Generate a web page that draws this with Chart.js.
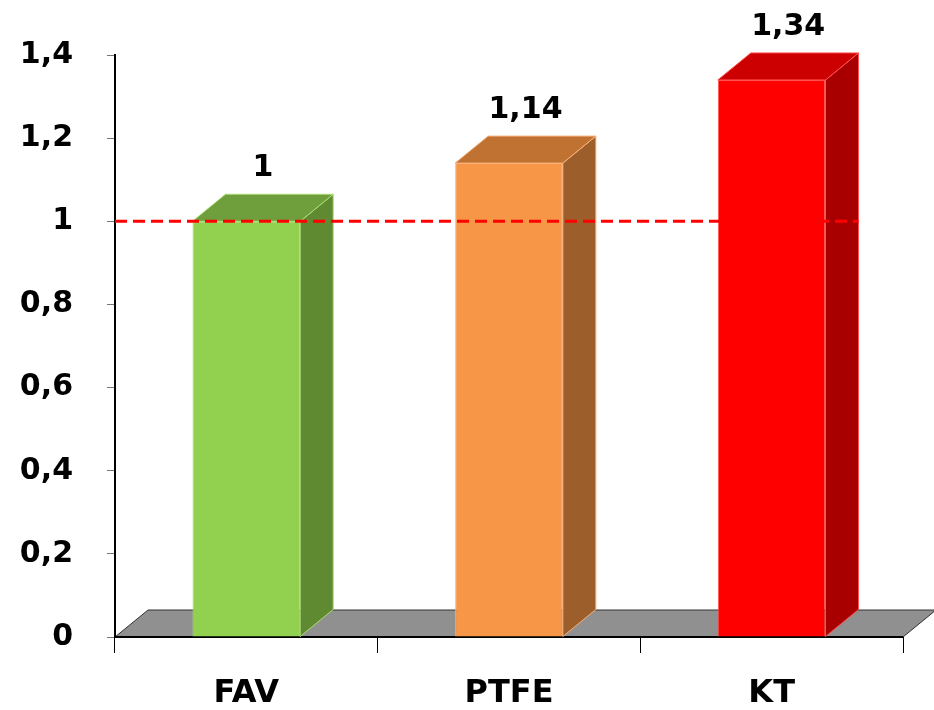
<!DOCTYPE html>
<html>
<head>
<meta charset="utf-8">
<script src="https://cdn.jsdelivr.net/npm/chart.js@4"></script>
<style>
  html, body { margin: 0; padding: 0; background: #fff; }
  #wrap { width: 934px; height: 710px; }
</style>
</head>
<body>
<div id="wrap"><canvas id="bar-chart"></canvas></div>
<script>
// data
const categories = ["FAV", "PTFE", "KT"]
const values = [1, 1.14, 1.34]
const valueLabels = ["1", "1,14", "1,34"]
const referenceLevel = 1

const frontColors = ["#92D050", "#F79646", "#FF0000"]
const topColors = ["#6F9E3C", "#C07232", "#CC0000"]
const sideColors = ["#5F8A32", "#9C5F2C", "#A80000"]
const edgeColors = ["#A9DC70", "#F9B07A", "#FF5050"]

const DX = 33 // 3d depth
const DY = -27
const FONT = "'DejaVu Sans', sans-serif"

function poly(ctx, pts, fill, stroke) {
  ctx.beginPath()
  ctx.moveTo(pts[0][0], pts[0][1])
  for (let i = 1; i < pts.length; i++) ctx.lineTo(pts[i][0], pts[i][1])
  ctx.closePath()
  ctx.fillStyle = fill
  ctx.fill()
  if (stroke) {
    ctx.strokeStyle = stroke
    ctx.lineWidth = 1
    ctx.stroke()
  }
}

// gray floor under the bars
const floorPlugin = {
  id: "floor",
  beforeDatasetsDraw(chart) {
    const ctx = chart.ctx
    const a = chart.chartArea
    const y0 = chart.scales.y.getPixelForValue(0)
    ctx.save()
    poly(ctx, [[a.left, y0], [a.right, y0], [a.right + DX, y0 + DY], [a.left + DX, y0 + DY]], "#909090", "#333")
    ctx.beginPath()
    ctx.moveTo(a.left, y0)
    ctx.lineTo(a.right, y0)
    ctx.strokeStyle = "#000"
    ctx.lineWidth = 2
    ctx.stroke()
    ctx.restore()
  },
}

// side/top faces, reference line and value labels
const box3dPlugin = {
  id: "box3d",
  afterDatasetsDraw(chart) {
    const ctx = chart.ctx
    const meta = chart.getDatasetMeta(0)
    const yScale = chart.scales.y
    ctx.save()
    meta.data.forEach(function (bar, i) {
      const l = bar.x - bar.width / 2
      const r = bar.x + bar.width / 2
      const t = bar.y
      const b = bar.base
      poly(ctx, [[r, t], [r + DX, t + DY], [r + DX, b + DY], [r, b]], sideColors[i], edgeColors[i])
      poly(ctx, [[l, t], [r, t], [r + DX, t + DY], [l + DX, t + DY]], topColors[i], edgeColors[i])
    })

    const last = meta.data[meta.data.length - 1]
    const yRef = yScale.getPixelForValue(referenceLevel)
    ctx.beginPath()
    ctx.setLineDash([12, 6])
    ctx.moveTo(chart.chartArea.left, yRef)
    ctx.lineTo(last.x + last.width / 2 + DX, yRef)
    ctx.strokeStyle = "#FF0000"
    ctx.lineWidth = 3
    ctx.stroke()
    ctx.setLineDash([])

    ctx.fillStyle = "#000"
    ctx.font = "bold 30px " + FONT
    ctx.textAlign = "center"
    ctx.textBaseline = "middle"
    meta.data.forEach(function (bar, i) {
      ctx.fillText(valueLabels[i], bar.x + DX / 2, bar.y + DY - 26)
    })
    ctx.restore()
  },
}

let ctxBar = document.getElementById("bar-chart").getContext("2d")
let barChart = new Chart(ctxBar, {
  type: "bar",
  data: {
    labels: categories,
    datasets: [
      {
        data: values,
        backgroundColor: frontColors,
        borderColor: edgeColors,
        borderWidth: 1,
        barPercentage: 0.41,
        categoryPercentage: 1,
      },
    ],
  },
  options: {
    responsive: true,
    maintainAspectRatio: false,
    animation: false,
    layout: {
      padding: { top: 55, right: 31, left: 0, bottom: 0 },
    },
    plugins: {
      legend: { display: false },
      tooltip: { enabled: false },
    },
    scales: {
      x: {
        grid: {
          drawOnChartArea: false,
          tickLength: 16,
          color: "#000",
        },
        border: { color: "#000", width: 2 },
        ticks: {
          color: "#000",
          padding: 21,
          font: { family: FONT, size: 32, weight: "bold" },
        },
        afterFit(scale) {
          scale.height = 73
        },
      },
      y: {
        min: 0,
        max: 1.4,
        ticks: {
          stepSize: 0.2,
          color: "#000",
          padding: 34,
          font: { family: FONT, size: 30, weight: "bold" },
          callback: function (v) {
            return String(Math.round(v * 10) / 10).replace(".", ",")
          },
        },
        grid: {
          drawOnChartArea: false,
          tickLength: 8,
          color: "#777",
        },
        border: { color: "#000", width: 2 },
        afterFit(scale) {
          scale.width = 115
        },
      },
    },
  },
  plugins: [floorPlugin, box3dPlugin],
})
</script>
</body>
</html>
